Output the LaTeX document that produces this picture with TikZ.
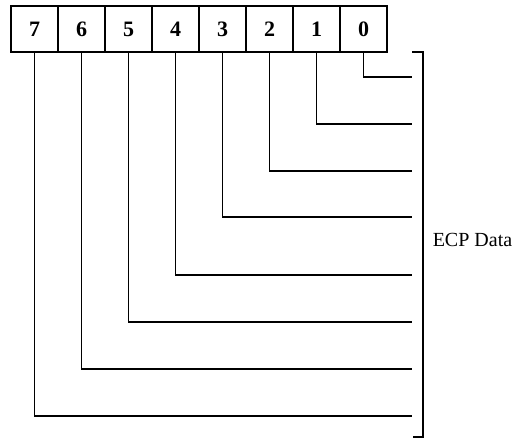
\documentclass[tikz,border=0pt]{standalone}
\usepackage{fontspec}
\setmainfont{Liberation Serif}
\begin{document}
\begin{tikzpicture}[x=1pt,y=-1pt, line width=1.5pt,
  bitbox/.style={draw, minimum width=47pt, minimum height=46pt, inner sep=0pt,
                 font=\fontsize{22}{22}\selectfont\bfseries},
  wire/.style={line width=1.5pt},
  lbl/.style={anchor=west, inner sep=0pt, font=\fontsize{20}{20}\selectfont}]
\useasboundingbox (0,0) rectangle (518,438);
\foreach \i/\yy in {7/416,6/369,5/322,4/275,3/217,2/171,1/124,0/77}{
  \pgfmathsetmacro\xx{34.5+47*(7-\i)}
  \node[bitbox] (b\i) at (\xx,29) {\i};
  \coordinate (e\i) at (412,\yy);
  \draw[wire] (b\i.south) |- (e\i);
}
\coordinate (bt) at (412,52);
\coordinate (bb) at (413,437);
\coordinate (bc) at (423,240);
\draw[wire] (bt) -- (bt -| bc) -- (bb -| bc) -- (bb);
\node[lbl] (ecp) at (432,240) {ECP Data};
\end{tikzpicture}
\end{document}
